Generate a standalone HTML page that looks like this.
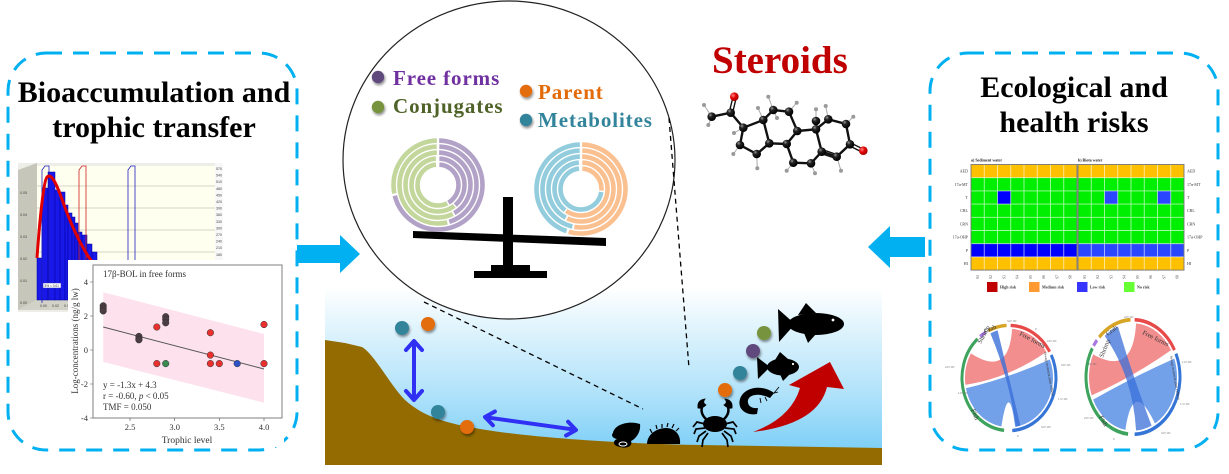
<!DOCTYPE html>
<html><head><meta charset="utf-8"><style>html,body{margin:0;padding:0;background:#fff;}svg{display:block}</style></head>
<body>
<svg width="1229" height="474" viewBox="0 0 1229 474" xmlns="http://www.w3.org/2000/svg" font-family="'Liberation Serif', serif">
<defs>
<linearGradient id="water" gradientUnits="userSpaceOnUse" x1="0" y1="288" x2="0" y2="465">
<stop offset="0" stop-color="#ffffff"/><stop offset="0.18" stop-color="#e6f6fd"/><stop offset="0.6" stop-color="#b0e2fa"/><stop offset="1" stop-color="#70caf6"/>
</linearGradient>
<radialGradient id="cat" cx="0.35" cy="0.3" r="0.7"><stop offset="0" stop-color="#999"/><stop offset="0.35" stop-color="#222"/><stop offset="1" stop-color="#000"/></radialGradient>
<radialGradient id="oat" cx="0.35" cy="0.35" r="0.7"><stop offset="0" stop-color="#ff8080"/><stop offset="0.5" stop-color="#e00000"/><stop offset="1" stop-color="#a00000"/></radialGradient>
<filter id="sh" x="-50%" y="-50%" width="200%" height="200%"><feDropShadow dx="1" dy="2" stdDeviation="1.2" flood-opacity="0.45"/></filter>
<path id="L1" d="M438,140.5 A44.5,44.5 0 1 1 438,229.5 A44.5,44.5 0 1 1 438,140.5" pathLength="360"/>
<path id="L2" d="M438,146.5 A38.5,38.5 0 1 1 438,223.5 A38.5,38.5 0 1 1 438,146.5" pathLength="360"/>
<path id="L3" d="M438,152.5 A32.5,32.5 0 1 1 438,217.5 A32.5,32.5 0 1 1 438,152.5" pathLength="360"/>
<path id="L4" d="M438,158.5 A26.5,26.5 0 1 1 438,211.5 A26.5,26.5 0 1 1 438,158.5" pathLength="360"/>
<path id="L5" d="M438,164.5 A20.5,20.5 0 1 1 438,205.5 A20.5,20.5 0 1 1 438,164.5" pathLength="360"/>
<path id="R1" d="M581,144.5 A44.5,44.5 0 1 1 581,233.5 A44.5,44.5 0 1 1 581,144.5" pathLength="360"/>
<path id="R2" d="M581,150.5 A38.5,38.5 0 1 1 581,227.5 A38.5,38.5 0 1 1 581,150.5" pathLength="360"/>
<path id="R3" d="M581,156.5 A32.5,32.5 0 1 1 581,221.5 A32.5,32.5 0 1 1 581,156.5" pathLength="360"/>
<path id="R4" d="M581,162.5 A26.5,26.5 0 1 1 581,215.5 A26.5,26.5 0 1 1 581,162.5" pathLength="360"/>
<path id="R5" d="M581,168.5 A20.5,20.5 0 1 1 581,209.5 A20.5,20.5 0 1 1 581,168.5" pathLength="360"/>
</defs>
<rect width="1229" height="474" fill="#fff"/>

<!-- ============ LEFT PANEL ============ -->
<rect x="8" y="53" width="289" height="397" rx="38" fill="none" stroke="#00b0f0" stroke-width="3" stroke-dasharray="16 11"/>
<text x="154" y="102" text-anchor="middle" font-size="30" font-weight="bold" fill="#000">Bioaccumulation and</text>
<text x="154" y="137" text-anchor="middle" font-size="30" font-weight="bold" fill="#000">trophic transfer</text>

<!-- histogram -->
<g>
<rect x="18" y="163" width="205" height="149" fill="#eeeee8"/>
<polygon points="18,170 37,163 37,300 18,310" fill="#c6c6ba"/>
<rect x="37" y="166" width="178" height="134" fill="#fffff0"/>
<polygon points="18,310 37,300 215,300 205,310" fill="#d2d2c8"/>
<rect x="215" y="163" width="8" height="149" fill="#f8f8f8"/>
<g stroke="#c9c9b4" stroke-width="0.7">
<path d="M37,186H215M37,208H215M37,230H215M37,252H215M37,274H215"/>
<path d="M18,193L37,186M18,215L37,208M18,237L37,230M18,259L37,252M18,281L37,274"/>
</g>
<g font-size="3.6" fill="#444" font-family="'Liberation Sans', sans-serif">
<text x="20" y="194">0.05</text><text x="20" y="216">0.04</text><text x="20" y="238">0.03</text><text x="20" y="260">0.02</text><text x="20" y="282">0.01</text><text x="20" y="304">0.00</text>
<text x="216" y="170">570</text><text x="216" y="176.6">540</text><text x="216" y="183.2">510</text><text x="216" y="189.8">480</text><text x="216" y="196.4">450</text><text x="216" y="203">420</text><text x="216" y="209.6">390</text><text x="216" y="216.2">360</text><text x="216" y="222.8">330</text><text x="216" y="229.4">300</text><text x="216" y="236">270</text><text x="216" y="242.6">240</text><text x="216" y="249.2">210</text><text x="216" y="255.8">180</text>
<text x="40" y="307">0.00</text><text x="52" y="307">0.02</text><text x="64" y="307">0.04</text>
</g>
<g fill="#1818e8" stroke="#0000a0" stroke-width="0.5">
<rect x="37" y="258" width="5" height="42"/><rect x="42" y="188" width="6" height="112"/><rect x="48" y="172" width="7" height="128"/><rect x="55" y="190" width="5" height="110"/><rect x="60" y="192" width="5" height="108"/><rect x="65" y="205" width="3" height="95"/><rect x="68" y="213" width="4" height="87"/><rect x="72" y="217" width="3" height="83"/><rect x="75" y="223" width="3" height="77"/><rect x="78" y="232" width="4" height="68"/><rect x="82" y="235" width="5" height="65"/><rect x="87" y="244" width="5" height="56"/><rect x="92" y="252" width="5" height="48"/>
</g>
<g fill="none" stroke-width="0.8">
<path d="M42,303V170L45,166H49V300" stroke="#2020c0"/>
<path d="M79,262V170L82,166H86V262" stroke="#d02020"/>
<path d="M128,262V170L131,166H135V262" stroke="#2020c0"/>
</g>
<path d="M37,258 C40,215 44,180 47,177 C52,172 58,188 63,202 C70,222 78,240 88,256 L95,266" fill="none" stroke="#e00000" stroke-width="3"/>
<rect x="43" y="283" width="18" height="5" fill="#fff" stroke="#3030c0" stroke-width="0.5"/>
<text x="44.5" y="286.8" font-size="3.2" fill="#223" font-family="'Liberation Sans', sans-serif">5% = 0.01</text>
</g>

<!-- scatter -->
<g>
<rect x="68" y="260" width="216" height="187" fill="#fff"/>
<polygon points="103.2,292.2 264,334 264,402.7 103.2,361.9" fill="#fde2ee"/>
<rect x="93" y="265" width="189" height="153" fill="none" stroke="#7f7f7f" stroke-width="1"/>
<line x1="103.2" y1="327" x2="264" y2="369" stroke="#555" stroke-width="1"/>
<g stroke="#333" stroke-width="0.5">
<circle cx="103.2" cy="305.8" r="3.3" fill="#4b3d42"/><circle cx="103.2" cy="308.3" r="3.3" fill="#4b3d42"/><circle cx="103.2" cy="310.9" r="3.3" fill="#4b3d42"/>
<circle cx="138.9" cy="336.4" r="3.3" fill="#4b3d42"/><circle cx="138.9" cy="339" r="3.3" fill="#4b3d42"/><circle cx="138.9" cy="339.8" r="3.3" fill="#4b3d42"/>
<circle cx="165.7" cy="316.7" r="3.3" fill="#4b3d42"/><circle cx="165.7" cy="319.4" r="3.3" fill="#4b3d42"/><circle cx="165.7" cy="322.8" r="3.3" fill="#4b3d42"/>
<circle cx="156.8" cy="327" r="3.3" fill="#e8302e"/><circle cx="156.8" cy="363.6" r="3.3" fill="#e8302e"/>
<circle cx="165.7" cy="363.6" r="3.3" fill="#3a8a52"/>
<circle cx="210.4" cy="332.7" r="3.3" fill="#e8302e"/><circle cx="210.4" cy="355.1" r="3.3" fill="#e8302e"/><circle cx="210.4" cy="363.6" r="3.3" fill="#e8302e"/>
<circle cx="219.3" cy="363.6" r="3.3" fill="#e8302e"/>
<circle cx="237.2" cy="363.6" r="3.3" fill="#2f52c6"/>
<circle cx="264" cy="324.5" r="3.3" fill="#e8302e"/><circle cx="264" cy="363.6" r="3.3" fill="#e8302e"/>
</g>
<g stroke="#555" stroke-width="0.6"><path d="M90,282H93M90,316H93M90,350H93M90,384H93M90,418H93M130,418V421M174.7,418V421M219.3,418V421M264,418V421"/></g>
<g font-size="8.5" fill="#333">
<text x="88" y="285" text-anchor="end">4</text><text x="88" y="319" text-anchor="end">2</text><text x="88" y="353" text-anchor="end">0</text><text x="88" y="387" text-anchor="end">-2</text><text x="88" y="421" text-anchor="end">-4</text>
<text x="130" y="430" text-anchor="middle">2.5</text><text x="174.7" y="430" text-anchor="middle">3.0</text><text x="219.3" y="430" text-anchor="middle">3.5</text><text x="264" y="430" text-anchor="middle">4.0</text>
</g>
<text x="103" y="277" font-size="9" fill="#333">17β-BOL in free forms</text>
<text x="103" y="388" font-size="9" fill="#333">y = -1.3x + 4.3</text>
<text x="103" y="399" font-size="9" fill="#333">r = -0.60, <tspan font-style="italic">p</tspan> &lt; 0.05</text>
<text x="103" y="410" font-size="9" fill="#333">TMF = 0.050</text>
<text x="187" y="443" font-size="9.5" text-anchor="middle" fill="#333">Trophic level</text>
<text transform="translate(78,341) rotate(-90)" font-size="9" text-anchor="middle" fill="#333">Log-concentrations (ng/g lw)</text>
</g>

<!-- left big arrow -->
<polygon points="297,245 340,245 340,235 360,254 340,273 340,263 297,263" fill="#00b0f0"/>

<!-- ============ WATER SCENE ============ -->
<rect x="325" y="288" width="557" height="177" fill="url(#water)"/>
<path d="M325,340 L345,343 L362,347 C375,355 390,385 405,400 C425,418 450,425 500,432 C560,440 640,444 700,445 L882,448 L882,465 L325,465 Z" fill="#936b00"/>

<!-- big circle -->
<ellipse cx="509" cy="160" rx="166" ry="159" fill="#fff" stroke="#222" stroke-width="1.2"/>
<g stroke="#000" stroke-width="1.3" stroke-dasharray="5 4" fill="none">
<line x1="424" y1="302" x2="643" y2="409"/>
<line x1="669" y1="118" x2="689" y2="368"/>
</g>

<!-- legend -->
<g filter="url(#sh)">
<circle cx="378" cy="77" r="6.2" fill="#604a7b"/>
<circle cx="378" cy="107" r="6.2" fill="#77933c"/>
<circle cx="526" cy="91" r="6.2" fill="#e36c09"/>
<circle cx="526" cy="120" r="6.2" fill="#31849b"/>
</g>
<g font-size="21" font-weight="bold" letter-spacing="0.9">
<text x="393" y="85" fill="#7030a0">Free forms</text>
<text x="393" y="113" fill="#4f6228">Conjugates</text>
<text x="538" y="99" fill="#e36c09">Parent</text>
<text x="538" y="127" fill="#31849b">Metabolites</text>
</g>

<!-- rings -->
<g fill="none" stroke-width="4.6">
<use href="#L1" stroke="#b3a2c7" stroke-dasharray="0 1.5 254.5 400"/><use href="#L1" stroke="#c3d69b" stroke-dasharray="0 259 99.5 400"/>
<use href="#L2" stroke="#b3a2c7" stroke-dasharray="0 2 161 400"/><use href="#L2" stroke="#c3d69b" stroke-dasharray="0 166 192 400"/>
<use href="#L3" stroke="#b3a2c7" stroke-dasharray="0 2 148 400"/><use href="#L3" stroke="#c3d69b" stroke-dasharray="0 153 205 400"/>
<use href="#L4" stroke="#b3a2c7" stroke-dasharray="0 3 137 400"/><use href="#L4" stroke="#c3d69b" stroke-dasharray="0 143 214 400"/>
<use href="#L5" stroke="#b3a2c7" stroke-dasharray="0 4 146 400"/><use href="#L5" stroke="#c3d69b" stroke-dasharray="0 154 202 400"/>
<use href="#R1" stroke="#fac090" stroke-dasharray="0 1.5 194.5 400"/><use href="#R1" stroke="#93cddd" stroke-dasharray="0 199 159.5 400"/>
<use href="#R2" stroke="#fac090" stroke-dasharray="0 2 188 400"/><use href="#R2" stroke="#93cddd" stroke-dasharray="0 193 165 400"/>
<use href="#R3" stroke="#fac090" stroke-dasharray="0 2 203 400"/><use href="#R3" stroke="#93cddd" stroke-dasharray="0 208 150 400"/>
<use href="#R4" stroke="#fac090" stroke-dasharray="0 3 212 400"/><use href="#R4" stroke="#93cddd" stroke-dasharray="0 218 139 400"/>
<use href="#R5" stroke="#fac090" stroke-dasharray="0 4 91 400"/><use href="#R5" stroke="#93cddd" stroke-dasharray="0 99 257 400"/>
</g>

<!-- balance -->
<g fill="#000">
<rect x="503" y="197" width="10" height="70"/>
<polygon points="413,231 606,238 606,246 413,238"/>
<rect x="491" y="265" width="39" height="7"/>
<rect x="474" y="271" width="73" height="7"/>
</g>

<!-- Steroids -->
<text x="712" y="73" font-size="39" font-weight="bold" fill="#c00000">Steroids</text>
<g>
<g stroke="#aaa" stroke-width="1" fill="none">
<path d="M711.7,116.7L704,105M711.7,116.7L708.3,125M740,145L733.3,154M756.7,154L757.3,168.3M793.3,162.7L786.7,170.7M811,163.3L815,173.3M836.7,156.7L841,170.7M846,124L853.3,116.7M828.3,119.3L825.7,106M816,126L816,109.3M789,111.7L796.7,102.7M773.3,110L768.3,96.7M763.3,120L758,108M773.3,110L777,118M743.3,127.7L734,133"/>
</g>
<g stroke="#111" stroke-width="2.4" fill="none">
<path d="M711.7,116.7L730.7,112.7L743.3,127.7L740,145L756.7,154L769.3,143.3L763.3,120L743.3,127.7M763.3,120L773.3,110L789,111.7L797.3,131L786.7,144L769.3,143.3M797.3,131L816,129.3L821.7,151.7L811,163.3L793.3,162.7L786.7,144M816,129.3L828.3,119.3L846,124L850,144.3L836.7,156.7L821.7,151.7"/>
</g>
<g stroke="#111" stroke-width="1.4" fill="none">
<path d="M729.3,112L733,97M732.7,112.6L736.2,97.6M836,154.3L822.5,149.6M837.2,158.8L821.2,153.6M850,142.6L863,149M849.8,146L862.6,152.4"/>
</g>
<g fill="#9a9a9a">
<circle cx="704" cy="105" r="2"/><circle cx="708.3" cy="125" r="2"/><circle cx="733.3" cy="154" r="2"/><circle cx="757.3" cy="168.3" r="2"/><circle cx="786.7" cy="170.7" r="2"/><circle cx="815" cy="173.3" r="2"/><circle cx="841" cy="170.7" r="2"/><circle cx="853.3" cy="116.7" r="2"/><circle cx="825.7" cy="106" r="2"/><circle cx="816" cy="109.3" r="2"/><circle cx="796.7" cy="102.7" r="2"/><circle cx="768.3" cy="96.7" r="2"/><circle cx="758" cy="108" r="2"/><circle cx="777" cy="118" r="2"/><circle cx="734" cy="133" r="2"/>
</g>
<g fill="url(#cat)">
<circle cx="711.7" cy="116.7" r="4.3"/><circle cx="730.7" cy="112.7" r="4.3"/><circle cx="743.3" cy="127.7" r="4.3"/><circle cx="740" cy="145" r="4.3"/><circle cx="756.7" cy="154" r="4.3"/><circle cx="769.3" cy="143.3" r="4.3"/><circle cx="763.3" cy="120" r="4.3"/><circle cx="773.3" cy="110" r="4.3"/><circle cx="789" cy="111.7" r="4.3"/><circle cx="797.3" cy="131" r="4.3"/><circle cx="786.7" cy="144" r="4.3"/><circle cx="793.3" cy="162.7" r="4.3"/><circle cx="811" cy="163.3" r="4.3"/><circle cx="821.7" cy="151.7" r="4.3"/><circle cx="816" cy="121" r="4.3"/><circle cx="816" cy="129.3" r="4.3"/><circle cx="828.3" cy="119.3" r="4.3"/><circle cx="846" cy="124" r="4.3"/><circle cx="850" cy="144.3" r="4.3"/><circle cx="836.7" cy="156.7" r="4.3"/>
</g>
<g fill="url(#oat)"><circle cx="734.3" cy="96.7" r="4.3"/><circle cx="863.3" cy="150.7" r="4.3"/></g>
</g>

<!-- water scene objects -->
<g stroke="#3030f5" stroke-width="4" fill="none" stroke-linecap="round" stroke-linejoin="round">
<line x1="414" y1="342" x2="414" y2="399"/>
<polyline points="406,350 414,341 422,350"/>
<polyline points="406,391 414,400 422,391"/>
<line x1="486" y1="417.3" x2="575" y2="429.7"/>
<polyline points="494.9,411.5 485,417 492.9,425.3"/>
<polyline points="568.1,421.7 576,430 566.1,435.5"/>
</g>
<g filter="url(#sh)">
<circle cx="402" cy="328" r="7" fill="#31849b"/>
<circle cx="428" cy="324" r="7" fill="#e36c09"/>
<circle cx="438" cy="412" r="7" fill="#31849b"/>
<circle cx="467" cy="427" r="7" fill="#e36c09"/>
<circle cx="725" cy="390" r="7" fill="#e36c09"/>
<circle cx="740" cy="373" r="7" fill="#31849b"/>
<circle cx="753" cy="351" r="7" fill="#604a7b"/>
<circle cx="764" cy="333" r="7" fill="#77933c"/>
</g>
<!-- shell -->
<path d="M613,433 C614,425 628,420 640,424 C641,431 637,438 631,441 C633,446 627,449 620,447 C613,446 612,441 617,439 C612,438 611,435 613,433 Z" fill="#000"/>
<ellipse cx="623" cy="444" rx="4" ry="2" fill="none" stroke="#fff" stroke-width="1"/>
<!-- sea cucumber -->
<path d="M647,444 C647,435 656,428 666,428 C675,428 681,435 680,444 Z" fill="#000"/>
<path d="M652,433L650,429M657,429L656,425M662,428L662,424M667,427L668,423M672,428L674,424M676,431L679,428" stroke="#000" stroke-width="1.2"/>
<!-- crab -->
<g fill="#000" stroke="#000">
<ellipse cx="715" cy="424" rx="12" ry="8" stroke="none"/>
<path d="M707,420 Q700,414 702,407 M723,420 Q730,414 728,407" fill="none" stroke-width="2.5"/>
<path d="M698,408 Q697,400 705,399 Q702,403 706,405 Q702,409 698,408 Z M732,408 Q733,400 725,399 Q728,403 724,405 Q728,409 732,408 Z" stroke-width="0.8"/>
<path d="M705,424 L697,422 L693,427 M705,428 L696,429 L694,434 M706,431 L699,436 L697,442 M708,433 L703,440 L702,447 M725,424 L733,422 L737,427 M725,428 L734,429 L736,434 M724,431 L731,436 L733,442 M722,433 L727,440 L728,447" fill="none" stroke-width="1.7"/>
</g>
<!-- shrimp -->
<path d="M774,393 C762,384 744,387 740,399 C737,409 746,416 757,414 L758,408 C751,409 747,405 748,400 C750,394 760,393 770,398 Z" fill="#000"/>
<path d="M746,396 C752,390 764,389 772,394" fill="none" stroke="#000" stroke-width="4"/>
<path d="M774,393 L779,387 M771,394 L778,392 M752,408 L749,413 M747,404 L743,408 M760,398 L761,403 M765,397 L767,401" stroke="#000" stroke-width="0.9"/>
<!-- small fish -->
<g fill="#000">
<ellipse cx="783" cy="367" rx="16" ry="8.5"/>
<polygon points="757,357 770,367 758,379"/>
<polygon points="775,360 780,352 788,359"/>
<polygon points="780,374 783,381 789,375"/>
</g>
<circle cx="793" cy="364" r="1.1" fill="#fff"/>
<!-- big fish -->
<g fill="#000">
<ellipse cx="816" cy="324" rx="28" ry="11"/>
<polygon points="778,309 795,324 779,342"/>
<polygon points="798,315 806,303 816,313"/>
<polygon points="804,333 808,343 816,334"/>
</g>
<circle cx="833" cy="320" r="1.4" fill="#fff"/>
<!-- red arrow -->
<path d="M753,432 Q791,418 800,388 L789,385 L830,362 L844,389 L827,387 Q818,424 753,432 Z" fill="#c00000"/>

<!-- right big arrow -->
<polygon points="925,237 890,237 890,226 868,247 890,268 890,257 925,257" fill="#00b0f0"/>

<!-- ============ RIGHT PANEL ============ -->
<rect x="930" y="53" width="288" height="397" rx="38" fill="none" stroke="#00b0f0" stroke-width="3" stroke-dasharray="16 11"/>
<text x="1074" y="97" text-anchor="middle" font-size="30" font-weight="bold" fill="#000">Ecological and</text>
<text x="1074" y="132" text-anchor="middle" font-size="30" font-weight="bold" fill="#000">health risks</text>

<!-- heatmaps -->
<text x="971" y="161.5" font-size="4" font-weight="bold" fill="#222">a) Sediment water</text>
<text x="1078" y="161.5" font-size="4" font-weight="bold" fill="#222">b) Biota water</text>
<g>
<rect x="971" y="164.5" width="106" height="13.2" fill="#ffc000"/>
<rect x="971" y="177.7" width="106" height="66" fill="#00ee00"/>
<rect x="971" y="243.7" width="106" height="13.2" fill="#0000ff"/>
<rect x="971" y="256.9" width="106" height="13.2" fill="#ffc000"/>
<rect x="997.5" y="190.9" width="13.25" height="13.2" fill="#0000ff"/>
<rect x="1078" y="164.5" width="106" height="13.2" fill="#ffc000"/>
<rect x="1078" y="177.7" width="106" height="66" fill="#00ee00"/>
<rect x="1078" y="243.7" width="106" height="13.2" fill="#2a46ff"/>
<rect x="1078" y="256.9" width="106" height="13.2" fill="#ffc000"/>
<rect x="1104.5" y="190.9" width="13.25" height="13.2" fill="#2a46ff"/>
<rect x="1157.5" y="190.9" width="13.25" height="13.2" fill="#2a46ff"/>
<path d="M984.25,164.5V270.1M997.5,164.5V270.1M1010.75,164.5V270.1M1024,164.5V270.1M1037.25,164.5V270.1M1050.5,164.5V270.1M1063.75,164.5V270.1M971,177.7H1077M971,190.9H1077M971,204.1H1077M971,217.3H1077M971,230.5H1077M971,243.7H1077M971,256.9H1077M1091.25,164.5V270.1M1104.5,164.5V270.1M1117.75,164.5V270.1M1131,164.5V270.1M1144.25,164.5V270.1M1157.5,164.5V270.1M1170.75,164.5V270.1M1078,177.7H1184M1078,190.9H1184M1078,204.1H1184M1078,217.3H1184M1078,230.5H1184M1078,243.7H1184M1078,256.9H1184" stroke="#ffffff" stroke-opacity="0.65" stroke-width="0.9"/>
<rect x="971" y="164.5" width="106" height="105.6" fill="none" stroke="#777" stroke-width="0.9"/>
<rect x="1078" y="164.5" width="106" height="105.6" fill="none" stroke="#777" stroke-width="0.9"/>
</g>
<g font-size="4" fill="#333">
<text x="968" y="172.6" text-anchor="end">AED</text><text x="968" y="185.8" text-anchor="end">17α-MT</text><text x="968" y="199" text-anchor="end">T</text><text x="968" y="212.2" text-anchor="end">CRL</text><text x="968" y="225.4" text-anchor="end">CRN</text><text x="968" y="238.6" text-anchor="end">17α-OHP</text><text x="968" y="251.8" text-anchor="end">P</text><text x="968" y="265" text-anchor="end">HI</text>
<text x="1187" y="172.6">AED</text><text x="1187" y="185.8">17α-MT</text><text x="1187" y="199">T</text><text x="1187" y="212.2">CRL</text><text x="1187" y="225.4">CRN</text><text x="1187" y="238.6">17α-OHP</text><text x="1187" y="251.8">P</text><text x="1187" y="265">HI</text>
</g>
<g font-size="3.6" fill="#444" text-anchor="middle">
<text transform="translate(978.9,277) rotate(-90)">S1</text><text transform="translate(992.2,277) rotate(-90)">S2</text><text transform="translate(1005.4,277) rotate(-90)">S3</text><text transform="translate(1018.7,277) rotate(-90)">S4</text><text transform="translate(1031.9,277) rotate(-90)">S5</text><text transform="translate(1045.2,277) rotate(-90)">S6</text><text transform="translate(1058.4,277) rotate(-90)">S7</text><text transform="translate(1071.7,277) rotate(-90)">S8</text>
<text transform="translate(1085.9,277) rotate(-90)">S1</text><text transform="translate(1099.2,277) rotate(-90)">S2</text><text transform="translate(1112.4,277) rotate(-90)">S3</text><text transform="translate(1125.7,277) rotate(-90)">S4</text><text transform="translate(1138.9,277) rotate(-90)">S5</text><text transform="translate(1152.2,277) rotate(-90)">S6</text><text transform="translate(1165.4,277) rotate(-90)">S7</text><text transform="translate(1178.7,277) rotate(-90)">S8</text>
</g>
<g>
<rect x="987" y="282" width="10.5" height="10" fill="#c00000"/>
<rect x="1029" y="282" width="10.5" height="10" fill="#ff9a33"/>
<rect x="1077" y="282" width="10.5" height="10" fill="#3535ff"/>
<rect x="1124" y="282" width="10.5" height="10" fill="#66ff33"/>
<g font-size="4" fill="#333" font-weight="bold"><text x="1000" y="288.5">High risk</text><text x="1042" y="288.5">Medium risk</text><text x="1090" y="288.5">Low risk</text><text x="1137" y="288.5">No risk</text></g>
</g>

<!-- chord diagrams -->
<g transform="translate(1009,378) scale(1,1.12)">
<path d="M3.07,-43.89 A44,44 0 0 1 37.31,-23.32 Q0,0 -43.57,6.12 A44,44 0 0 1 -38.10,-22.0 Q0,0 3.07,-43.89 Z" fill="#f07a7a" fill-opacity="0.85"/>
<path d="M40.80,-16.48 A44,44 0 0 1 6.12,43.57 Q0,0 -7.64,43.33 A44,44 0 0 1 -43.04,9.15 Q0,0 40.80,-16.48 Z" fill="#5f93e6" fill-opacity="0.88"/>
<path d="M11.39,42.50 A44,44 0 0 1 6.88,43.46 Q0,0 -18.59,-39.88 A44,44 0 0 1 -11.39,-42.50 Q0,0 11.39,42.50 Z" fill="#3a6fd8" fill-opacity="0.8"/>
<g fill="none" stroke-width="3">
<path d="M1.64,-46.97 A47,47 0 0 1 40.70,-23.5" stroke="#e84a4a"/>
<path d="M42.24,-20.60 A47,47 0 0 1 3.28,46.89" stroke="#3575d6"/>
<path d="M-4.91,46.74 A47,47 0 0 1 -31.45,-34.93" stroke="#3da35d"/>
<path d="M-28.94,-37.04 A47,47 0 0 1 -23.5,-40.70" stroke="#a877e0"/>
<path d="M-20.60,-42.24 A47,47 0 0 1 -2.46,-46.93" stroke="#d8a423"/>
</g>
</g>
<g transform="translate(1133,377) scale(1,1.22)">
<path d="M3.07,-43.89 A44,44 0 0 1 38.11,-22 Q0,0 -41.35,15.05 A44,44 0 0 1 -39.88,-18.59 Q0,0 3.07,-43.89 Z" fill="#f07a7a" fill-opacity="0.85"/>
<path d="M41.35,-15.05 A44,44 0 0 1 22,38.11 Q0,0 -7.64,43.33 A44,44 0 0 1 -39.88,18.59 Q0,0 41.35,-15.05 Z" fill="#5f93e6" fill-opacity="0.88"/>
<path d="M18.59,39.88 A44,44 0 0 1 3.07,43.89 Q0,0 -28.28,-33.70 A44,44 0 0 1 -15.05,-41.35 Q0,0 18.59,39.88 Z" fill="#3a6fd8" fill-opacity="0.75"/>
<g fill="none" stroke-width="3">
<path d="M1.64,-46.97 A47,47 0 0 1 41.50,-22.07" stroke="#e84a4a"/>
<path d="M42.93,-19.11 A47,47 0 0 1 1.64,46.97" stroke="#3575d6"/>
<path d="M-4.91,46.74 A47,47 0 0 1 -40.70,-23.5" stroke="#3da35d"/>
<path d="M-39.42,-25.6 A47,47 0 0 1 -36.0,-30.21" stroke="#a877e0"/>
<path d="M-33.81,-32.65 A47,47 0 0 1 -2.46,-46.93" stroke="#d8a423"/>
</g>
</g>
<g font-size="6.5" fill="#333">
<text transform="translate(1019,335) rotate(28)">Free forms</text>
<text transform="translate(981,344) rotate(-62)">Shrimp</text>
<text transform="translate(985,333) rotate(-22)">Crab</text>
<text transform="translate(971,410) rotate(68)">Fish</text>
<text transform="translate(1142,334) rotate(26)">Free forms</text>
<text transform="translate(1103,358) rotate(-68)">Shrimp</text>
<text transform="translate(1108,336) rotate(-38)">Crab</text>
<text transform="translate(1099,417) rotate(62)">Fish</text>
</g>
<g font-size="3.5" fill="#333">
<text transform="translate(1044,352) rotate(80)">Sewage treatment plant effluent</text>
<text transform="translate(1170,356) rotate(80)">Sewage treatment plant effluent</text>
</g>
<g font-size="3" fill="#666">
<text x="1007" y="322">3.0×10⁵</text><text x="1035" y="330">0</text><text x="1047" y="342">2.0×10⁵</text><text x="1061" y="366">3.0×10⁵</text><text x="1058" y="400">1.5×10⁵</text><text x="1041" y="428">5.0×10⁴</text><text x="1017" y="437">0</text><text x="958" y="394">1.0×10⁵</text><text x="945" y="368">2.0×10⁵</text>
<text x="1124" y="318">2.0×10⁵</text><text x="1156" y="328">0</text><text x="1182" y="363">1.0×10⁵</text><text x="1180" y="405">1.5×10⁵</text><text x="1161" y="434">3.0×10⁵</text><text x="1113" y="440">0</text><text x="1084" y="419">2.0×10⁵</text><text x="1087" y="365">4.0×10⁵</text>
</g>
</svg>
</body></html>
